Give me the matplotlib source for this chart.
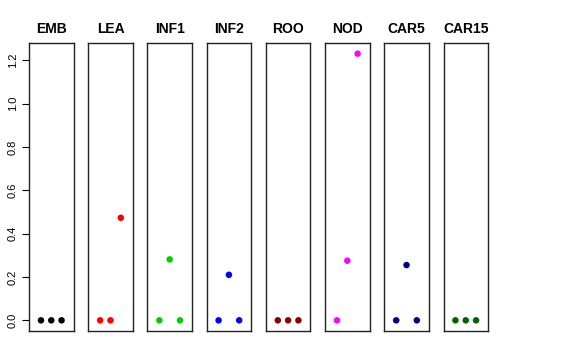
import numpy as np
import matplotlib
matplotlib.use("Agg")
import matplotlib.pyplot as plt

plt.rcParams['font.family'] = ['Liberation Sans', 'DejaVu Sans']

# tissues and the three values per panel (x positions 1, 2, 3)
tissues = ["EMB", "LEA", "INF1", "INF2", "ROO", "NOD", "CAR5", "CAR15"]
values = [
    [0.0, 0.0, 0.0],
    [0.0, 0.0, 0.473],
    [0.0, 0.281, 0.0],
    [0.0, 0.210, 0.0],
    [0.0, 0.0, 0.0],
    [0.0, 0.275, 1.23],
    [0.0, 0.255, 0.0],
    [0.0, 0.0, 0.0],
]
colors = ["black", "#FF0000", "#00CD00", "#0000FF", "#8B0000",
          "#FF00FF", "#00008B", "#006400"]
yticks = [0.0, 0.2, 0.4, 0.6, 0.8, 1.0, 1.2]

fig = plt.figure(figsize=(5.76, 3.6), dpi=100)

left, right = 29 / 576, 488 / 576
bottom, top = 1 - 331 / 360, 1 - 43 / 360
n = len(tissues)
pw = 44.5 / 576
step = (right - left - pw) / (n - 1)

ymax = 1.23
pad = ymax * 0.04
for i, (name, vals, col) in enumerate(zip(tissues, values, colors)):
    ax = fig.add_axes([left + i * step, bottom, pw, top - bottom])
    ax.scatter([1, 2, 3], vals, s=22, color=col, edgecolors='none', zorder=3)
    ax.set_xlim(-0.16, 4.16)
    ax.set_ylim(-pad, ymax + pad)
    ax.set_xticks([])
    for sp in ax.spines.values():
        sp.set_color('#222222')
        sp.set_linewidth(1.0)
    ax.set_title(name, fontsize=10, fontweight='bold', pad=7)
    if i == 0:
        ax.set_yticks(yticks)
        ax.set_yticklabels([f"{t:.1f}" for t in yticks], rotation=90,
                           va='center', fontsize=8)
        ax.tick_params(axis='y', length=5, width=0.8, pad=3)
    else:
        ax.set_yticks([])

fig.savefig("out.png", dpi=100)
